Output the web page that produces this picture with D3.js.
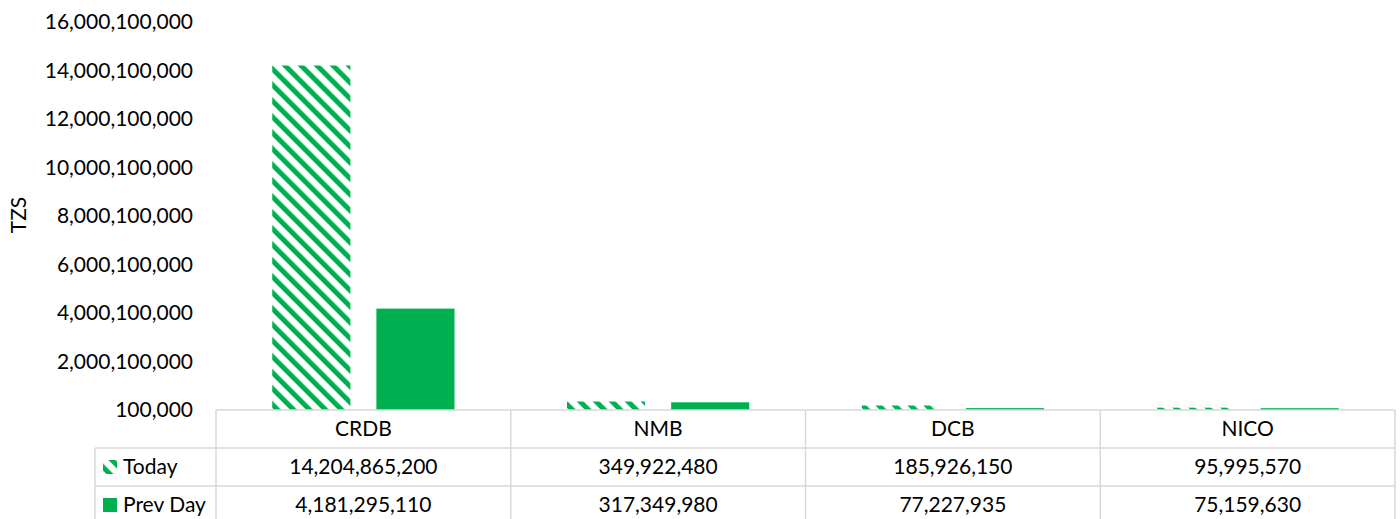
<!DOCTYPE html>
<head>
    <meta charset="utf-8">
    <title>TZS by bank</title>
    <script type="text/javascript" src="https://d3js.org/d3.v7.min.js"></script>
    <style>
        body { margin: 0; background: #fff; }
        text { font-family: Lato, "Open Sans", sans-serif; fill: #000; }
    </style>
</head>
<body>
<div id="container"></div>
<script>
    //-----------------------------DATA------------------------------//
    const banks = ["CRDB", "NMB", "DCB", "NICO"];
    const series = ["Today", "Prev Day"];
    const today = [14204865200, 349922480, 185926150, 95995570];
    const prevDay = [4181295110, 317349980, 77227935, 75159630];
    const yTicks = [100000, 2000100000, 4000100000, 6000100000, 8000100000,
        10000100000, 12000100000, 14000100000, 16000100000];

    //-----------------------------SVG-------------------------------//
    const width = 1400;
    const height = 519;
    const green = "#00b050";
    const gridGrey = "#d9d9d9";
    const fontSize = 21;

    const svg = d3.select("div#container").append("svg")
        .attr("width", width)
        .attr("height", height);

    // hatch like excel "wide downward diagonal"
    svg.append("defs").append("pattern")
        .attr("id", "hatch")
        .attr("patternUnits", "userSpaceOnUse")
        .attr("width", 11.3)
        .attr("height", 11.3)
        .attr("patternTransform", "rotate(-45)")
        .append("rect")
        .attr("x", 0).attr("y", 0)
        .attr("width", 5).attr("height", 11.3)
        .attr("fill", green);

    const fills = {"Today": "url(#hatch)", "Prev Day": green};
    const values = {"Today": today, "Prev Day": prevDay};

    //----------------------------SCALES-----------------------------//
    const xScale = d3.scaleBand().domain(banks).range([216, 1395]);
    const xInner = d3.scaleBand().domain(series)
        .range([0, xScale.bandwidth()])
        .paddingInner(0.25)
        .paddingOuter(0.54);
    const yScale = d3.scaleLinear()
        .domain([yTicks[0], yTicks[yTicks.length - 1]])
        .range([410, 22]);

    //-----------------------------AXES------------------------------//
    const yaxis = d3.axisLeft(yScale)
        .tickValues(yTicks)
        .tickSize(0)
        .tickPadding(0)
        .tickFormat(d3.format(","));

    const gy = svg.append("g")
        .attr("transform", "translate(193,0)")
        .call(yaxis);
    gy.select(".domain").remove();
    gy.selectAll("text")
        .style("font-size", fontSize + "px")
        .style("font-family", "Lato, sans-serif")
        .attr("fill", "#000");

    svg.append("text")
        .attr("transform", "translate(26,215) rotate(-90)")
        .attr("text-anchor", "middle")
        .style("font-size", fontSize + "px")
        .text("TZS");

    //----------------------------BARS-------------------------------//
    const groups = svg.selectAll(".bank")
        .data(banks)
        .enter()
        .append("g")
        .attr("class", "bank")
        .attr("transform", d => "translate(" + xScale(d) + ",0)");

    groups.selectAll("rect")
        .data((b, i) => series.map(s => ({s: s, v: values[s][i]})))
        .enter()
        .append("rect")
        .attr("x", d => xInner(d.s))
        .attr("width", xInner.bandwidth())
        .attr("y", d => yScale(d.v))
        .attr("height", d => yScale(yTicks[0]) - yScale(d.v))
        .attr("fill", d => fills[d.s]);

    //-------------------------DATA TABLE----------------------------//
    const rowTop = [410, 448, 486, 524];
    const tableLeft = 95;
    const lines = svg.append("g")
        .attr("stroke", gridGrey)
        .attr("stroke-width", 1.5);

    // horizontal lines
    lines.append("line").attr("x1", 216).attr("x2", 1395).attr("y1", rowTop[0]).attr("y2", rowTop[0]);
    lines.append("line").attr("x1", tableLeft).attr("x2", 1395).attr("y1", rowTop[1]).attr("y2", rowTop[1]);
    lines.append("line").attr("x1", tableLeft).attr("x2", 1395).attr("y1", rowTop[2]).attr("y2", rowTop[2]);
    // vertical lines
    lines.append("line").attr("x1", tableLeft).attr("x2", tableLeft).attr("y1", rowTop[1]).attr("y2", height);
    banks.forEach(b => {
        lines.append("line")
            .attr("x1", xScale(b)).attr("x2", xScale(b))
            .attr("y1", rowTop[0]).attr("y2", height);
    });
    lines.append("line").attr("x1", 1395).attr("x2", 1395).attr("y1", rowTop[0]).attr("y2", height);

    // category header
    svg.selectAll(".cat")
        .data(banks)
        .enter()
        .append("text")
        .attr("class", "cat")
        .attr("x", d => xScale(d) + xScale.bandwidth() / 2)
        .attr("y", (rowTop[0] + rowTop[1]) / 2)
        .attr("dy", "0.35em")
        .attr("text-anchor", "middle")
        .style("font-size", fontSize + "px")
        .text(d => d);

    const fmt = d3.format(",");
    series.forEach((s, r) => {
        const yMid = (rowTop[r + 1] + rowTop[r + 2]) / 2;
        svg.append("rect")
            .attr("x", 103).attr("y", yMid - 7)
            .attr("width", 14).attr("height", 14)
            .attr("fill", fills[s]);
        svg.append("text")
            .attr("x", 123).attr("y", yMid)
            .attr("dy", "0.35em")
            .style("font-size", fontSize + "px")
            .text(s);
        svg.selectAll(".val" + r)
            .data(banks)
            .enter()
            .append("text")
            .attr("x", d => xScale(d) + xScale.bandwidth() / 2)
            .attr("y", yMid)
            .attr("dy", "0.35em")
            .attr("text-anchor", "middle")
            .style("font-size", fontSize + "px")
            .text((d, i) => fmt(values[s][i]));
    });
</script>
</body>
